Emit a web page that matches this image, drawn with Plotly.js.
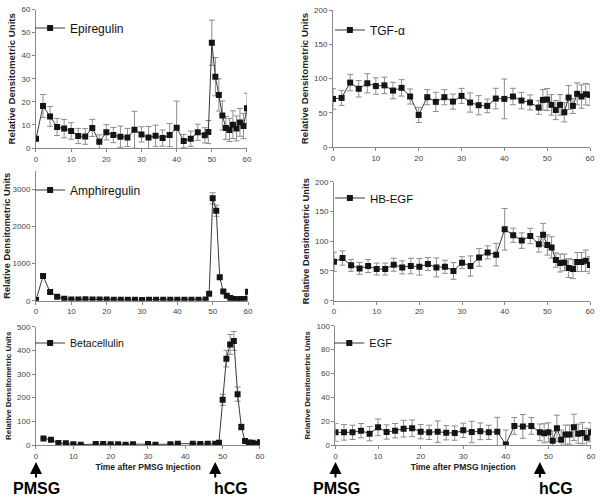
<!DOCTYPE html>
<html>
<head>
<meta charset="utf-8">
<script src="https://cdn.plot.ly/plotly-3.0.1.min.js"></script>
<style>html,body{margin:0;padding:0;background:#fff}#chart{width:602px;height:500px}</style>
</head>
<body>
<div id="chart"></div>
<script>
// ---- data ----
const timeFull = [0,2,4,6,8,10,12,14,16,18,20,22,24,26,28,30,32,34,36,38,40,42,44,46,48,49,50,51,52,53,54,55,56,57,58,59,60];

const epiregulin = [4,18.2,13.7,9.1,8.4,7.4,5.2,5,8.7,2.7,6.8,5.6,4.9,4.6,7.9,5.9,4.5,5.3,4.3,5.6,8.8,3,4,6.8,5.5,6.9,45.6,30.9,23,14.1,8.7,7.8,10.1,8.5,11.1,9.5,17.2];
const epiregulinErr = [1,5,4.3,3.7,4,3.6,3.3,3.4,3.7,3,3.3,3.3,4.6,3.9,8,3.3,4.8,4.6,3.5,5,11.5,2.9,3.3,3.5,3.3,5,9.8,8.3,7,6.3,5,5,6,5.4,6,5.5,6.5];

const tgfAlpha = [70.2,71.7,94,85,93,89,90,82.4,86.3,73.7,46.8,72.7,65.9,72.7,66.3,74.6,64.9,61,60,70.7,70.2,73.7,67.8,65,57.6,68.8,69.3,61.5,54,61.5,50.7,72.2,60,77.6,73.7,77,76];
const tgfAlphaErr = [15,11,12,12,14,12,12,12,12,11,11,11,14,11,11,11,14,14,10,15,29,12,12,11,10,15,16,15,14,15,14,17.5,11,16,17,15.6,15.6];

const amphiregulin = [20,665,234,108,54,30,30,40,35,35,30,25,25,25,25,20,25,25,25,25,25,25,25,25,30,190,2758,2425,630,250,135,72,45,36,45,45,243];
const amphiregulinErr = [10,40,20,15,10,10,10,10,10,10,10,10,10,10,10,10,10,10,10,10,10,10,10,10,10,20,150,150,40,20,15,10,10,10,10,10,20];

const hbEgf = [65.5,71.7,59.4,54.3,58.3,53.2,53.2,60.5,56,58.3,57,61.6,56,57,50,63.9,58.3,72.8,81.2,77.3,120,110,101,108.7,94.7,111,93.6,89.6,68.3,63.3,64.4,55,53.2,65,65,67.2,60];
const hbEgfErr = [16,12,10,10,11,10,10,11,11,13,14,11,16,11,14,10,17,15,11,19,35,12,13,13,13,19,17,18,12,15,14,16,16,16,16,18,14];

const timeBeta = [2,4,6,8,10,12,16,18,20,22,24,26,30,32,36,38,42,44,46,48,49,50,51,52,53,54,55,56,57,58,59,60];
const betacellulin = [28,22.5,8.5,7,3,1.5,4,4,3,3,1.5,3,4,1.5,3,5.6,5.6,4,5.6,5,10,191,365,425,440,215,76,17,11,10,5,12];
const betacellulinErr = [3,3,2,2,2,1,2,2,2,2,1,2,2,1,2,2,2,2,2,2,3,23,35,42,40,30,12,5,3,3,2,3];

const egf = [10.6,10.6,10.6,12,9.5,14.8,10.9,12,13.7,14,11.2,10.6,11.2,10.3,10,12.3,10.9,11.5,10.6,11.2,0.5,16,15.6,16,10.6,9.8,10.6,3.6,14,4.5,8.7,8.7,14.8,9.5,10,6,10.6];
const egfErr = [7.5,6.5,6,6,6,7,6,6,7,7,6,6,9,6,6,6,9,7,6,12,12,7,10,7,7,8,8,8,11,8,8,8,11,8,9,8,8];

const seriesNames = ['Epiregulin','TGF-\u03b1','Amphiregulin','HB-EGF','Betacellulin','EGF'];
const yTitle = 'Relative Densitometric Units';
const xTitle = 'Time after PMSG Injection';
const eventLabels = ['PMSG','hCG'];
const eventTimes = [0,48];

// ---- build ----
const FONT = 'Liberation Sans, Arial, sans-serif';
const panels = [
  {x: timeFull, y: epiregulin, e: epiregulinErr},
  {x: timeFull, y: tgfAlpha, e: tgfAlphaErr},
  {x: timeFull, y: amphiregulin, e: amphiregulinErr},
  {x: timeFull, y: hbEgf, e: hbEgfErr},
  {x: timeBeta, y: betacellulin, e: betacellulinErr},
  {x: timeFull, y: egf, e: egfErr}
];
const legendFont = [12,12,12,11.5,10.5,11];
const legendPos = [[0.05,0.944],[0.548,0.94],[0.05,0.62],[0.548,0.604],[0.05,0.314],[0.547,0.314]];

const traces = panels.map((p,i)=>({
  type:'scatter', mode:'lines+markers', name: seriesNames[i],
  x:p.x, y:p.y,
  error_y:{type:'data', array:p.e, visible:true, color:'#8c8c8c', thickness:1, width:3},
  line:{color:'#3a3a3a', width:1},
  marker:{symbol:'square', size:6, color:'#151515'},
  xaxis: i===0?'x':'x'+(i+1), yaxis: i===0?'y':'y'+(i+1),
  legend: i===0?'legend':'legend'+(i+1),
  showlegend:true
}));

function xa(n, dom, showTitle){
  const a = {domain:dom, anchor: n===1?'y':'y'+n, range:[0,60], dtick:10, tick0:0, showline:true, linecolor:'#888', linewidth:1,
    ticks:'outside', ticklen:3, tickcolor:'#888', showgrid:false, zeroline:false,
    tickfont:{family:FONT, size:8, color:'#444'}};
  if(showTitle) a.title = {text:xTitle, font:{family:FONT, size:8.5, color:'#222', weight:'bold'}, standoff:4};
  return a;
}
function ya(n, dom, range, dtick, tsize, standoff){
  return {domain:dom, anchor: n===1?'x':'x'+n, range:range, dtick:dtick, tick0:0, showline:true, linecolor:'#888', linewidth:1,
    ticks:'outside', ticklen:3, tickcolor:'#888', showgrid:false, zeroline:false,
    tickfont:{family:FONT, size:8, color:'#444'},
    title:{text:yTitle, font:{family:FONT, size:tsize, color:'#222', weight:'bold'}, standoff:standoff}};
}

const layout = {
  width:602, height:500, margin:{l:0,r:0,t:0,b:0}, paper_bgcolor:'#fff', plot_bgcolor:'#fff',
  showlegend:true,
  xaxis: xa(1,[0.0598,0.4103], false),
  yaxis: ya(1,[0.704,0.981],[0,60],10,9.7,4),
  xaxis2: xa(2,[0.5532,0.9801], false),
  yaxis2: ya(2,[0.706,0.98],[0,200],50,9.7,3),
  xaxis3: xa(3,[0.0598,0.412], false),
  yaxis3: ya(3,[0.3986,0.6584],[0,3500],1000,9.3,0),
  xaxis4: xa(4,[0.5548,0.9801], false),
  yaxis4: ya(4,[0.3986,0.6366],[0,200],50,9.3,3),
  xaxis5: xa(5,[0.0598,0.4319], true),
  yaxis5: ya(5,[0.11,0.3466],[0,500],100,8,4),
  xaxis6: xa(6,[0.5573,0.9817], true),
  yaxis6: ya(6,[0.11,0.3486],[0,100],20,8,4),
  annotations: []
};
for(let i=0;i<6;i++){
  const key = i===0?'legend':'legend'+(i+1);
  layout[key] = {x:legendPos[i][0], y:legendPos[i][1], xanchor:'left', yanchor:'middle',
    bgcolor:'rgba(0,0,0,0)', borderwidth:0, font:{family:FONT, size:legendFont[i], color:'#111'},
    itemclick:false, itemdoubleclick:false, tracegroupgap:0};
}
// event arrows and labels under the bottom panels
['x5','x6'].forEach(xr=>{
  eventTimes.forEach((t,k)=>{
    layout.annotations.push({xref:xr, yref:'paper', x:t, y:0.076, text:'', showarrow:true,
      arrowhead:2, arrowsize:1.2, arrowwidth:2, arrowcolor:'#000', ax:0, ay:17});
    layout.annotations.push({xref:xr, yref:'paper', x:t, y:0.024, text:'<b>'+eventLabels[k]+'</b>',
      showarrow:false, xanchor: k===0?'center':'left', yanchor:'middle', xshift: k===0?1:-3,
      font:{family:FONT, size:16, color:'#000'}});
  });
});

Plotly.newPlot('chart', traces, layout, {staticPlot:true, displayModeBar:false});
</script>
</body>
</html>
